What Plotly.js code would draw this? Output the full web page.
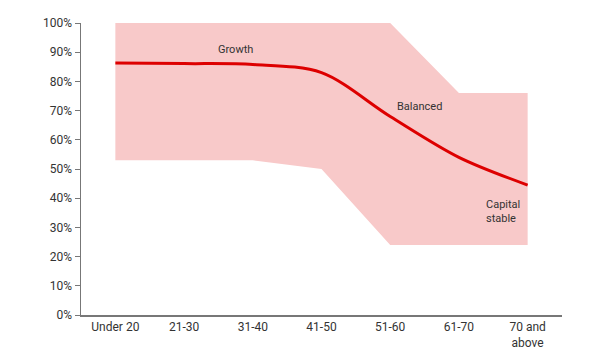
<!DOCTYPE html>
<html>
<head>
<meta charset="utf-8">
<script src="https://cdn.plot.ly/plotly-3.0.1.min.js"></script>
<style>html,body{margin:0;padding:0;background:#fff;}#chart{width:605px;height:362px;}</style>
</head>
<body>
<div id="chart"></div>
<script>
var categories = ["Under 20", "21-30", "31-40", "41-50", "51-60", "61-70", "70 and<br>above"];
var rangeLow = [53, 53, 53, 50, 24, 24, 24];
var rangeHigh = [100, 100, 100, 100, 100, 76, 76];
var growthAllocation = [86.3, 86.1, 85.8, 83, 68, 54, 44.5];
var zoneLabels = ["Growth", "Balanced", "Capital<br>stable"];

var idx = categories.map(function(_, i){ return i; });

var traces = [
  {x: idx, y: rangeLow, type: 'scatter', mode: 'lines', line: {width: 0, color: 'rgba(0,0,0,0)'}, hoverinfo: 'skip', showlegend: false},
  {x: idx, y: rangeHigh, type: 'scatter', mode: 'lines', line: {width: 0, color: 'rgba(0,0,0,0)'}, fill: 'tonexty', fillcolor: '#f8c9c9', hoverinfo: 'skip', showlegend: false},
  {x: idx, y: growthAllocation, type: 'scatter', mode: 'lines', line: {color: '#dd0000', width: 3, shape: 'spline', smoothing: 0.9}, showlegend: false}
];

var layout = {
  width: 605, height: 362,
  margin: {l: 81, r: 43, t: 23, b: 47},
  paper_bgcolor: '#fff', plot_bgcolor: '#fff',
  font: {family: 'Roboto, sans-serif', size: 12, color: '#333'},
  showlegend: false,
  xaxis: {
    range: [-0.5, 6.5], tickmode: 'array', tickvals: idx, ticktext: categories,
    showgrid: false, zeroline: false, showline: true, linecolor: '#777', linewidth: 1.5,
    ticks: '', tickfont: {size: 12, color: '#333'}
  },
  yaxis: {
    range: [0, 100], dtick: 10, ticksuffix: '%', showgrid: false, zeroline: false,
    showline: true, linecolor: '#777', linewidth: 1.5, ticks: 'outside', ticklen: 5, tickcolor: '#777',
    tickfont: {size: 12, color: '#333'}
  },
  annotations: [
    {x: 1.75, y: 91, xref: 'x', yref: 'y', text: zoneLabels[0], showarrow: false, font: {size: 11, color: '#333'}},
    {x: 4.43, y: 71.5, xref: 'x', yref: 'y', text: zoneLabels[1], showarrow: false, font: {size: 11, color: '#333'}},
    {x: 5.37, y: 35.5, xref: 'x', yref: 'y', text: zoneLabels[2], showarrow: false, xanchor: 'left', align: 'left', font: {size: 11, color: '#333'}}
  ]
};

Plotly.newPlot('chart', traces, layout, {displayModeBar: false, staticPlot: true});
</script>
</body>
</html>
